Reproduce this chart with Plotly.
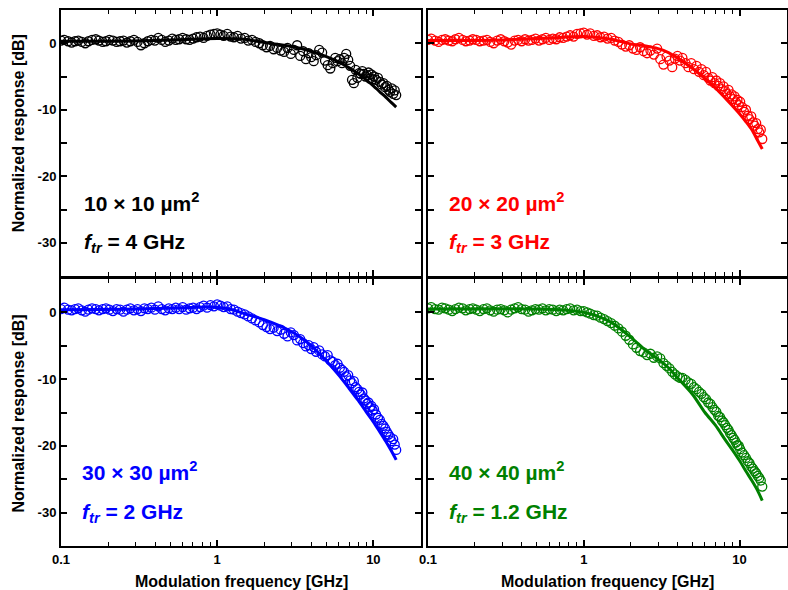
import plotly.graph_objects as go

# ---------------- data ----------------
freq_ghz = [
    0.100, 0.105, 0.111, 0.117, 0.123, 0.129, 0.136, 0.143, 0.150, 0.158,
    0.167, 0.175, 0.185, 0.194, 0.204, 0.215, 0.227, 0.239, 0.251, 0.264,
    0.278, 0.293, 0.309, 0.325, 0.342, 0.360, 0.379, 0.399, 0.420, 0.442,
    0.465, 0.490, 0.516, 0.543, 0.571, 0.601, 0.633, 0.666, 0.701, 0.738,
    0.777, 0.818, 0.861, 0.906, 0.954,
    1.00, 1.05, 1.10, 1.16, 1.22, 1.28, 1.35, 1.42, 1.50, 1.58,
    1.67, 1.76, 1.86, 1.96, 2.07, 2.18, 2.30, 2.42, 2.55, 2.68,
    2.82, 2.96, 3.10, 3.25, 3.40, 3.55, 3.70, 3.85, 4.00, 4.15,
    4.30, 4.50, 4.70, 4.90, 5.10, 5.30, 5.50, 5.70, 5.90, 6.10,
    6.30, 6.50, 6.70, 6.90, 7.10, 7.30, 7.50, 7.70, 7.90, 8.10,
    8.30, 8.50, 8.70, 8.90, 9.10, 9.30, 9.50, 9.70, 9.90, 10.1,
    10.4, 10.7, 11.0, 11.3, 11.6, 11.9, 12.2, 12.5, 12.8, 13.1,
    13.4, 13.7, 14.0,
]

meas_10um = [
    0.4, 0.5, 0.3, 0.1, 0.3, 0.4, 0.2, 0.0, 0.3, 0.5,
    0.6, 0.4, 0.2, 0.3, 0.5, 0.4, 0.2, 0.3, 0.4, 0.1,
    0.3, 0.5, 0.2, -0.3, 0.0, 0.3, 0.5, 0.4, 0.8, 0.5,
    0.2, 0.4, 0.7, 0.5, 0.6, 0.8, 0.6, 0.5, 0.7, 0.9,
    1.0, 0.8, 1.1, 1.3, 1.4,
    1.5, 1.3, 1.1, 1.4, 1.0, 0.9, 1.1, 0.7, 0.8, 0.4,
    0.5, 0.2, 0.0, -0.3, -0.6, -0.4, -0.9, -0.7, -1.1, -1.3,
    -0.7, -1.6, -1.0, -0.3, -1.9, -1.2, -2.4, -1.5, -2.1, -2.7,
    -1.8, -1.0, -1.4, -2.6, -3.3, -3.8, -3.0, -2.2, -2.7, -2.4,
    -3.0, -2.2, -1.6, -2.5, -3.4, -5.5, -6.0, -4.0, -5.2, -4.5,
    -4.6, -4.2, -4.6, -5.0, -4.8, -4.4, -5.3, -4.7, -5.4, -5.0,
    -5.5, -5.2, -5.8, -6.2, -6.0, -6.6, -6.4, -7.0, -7.3, -6.8,
    -7.6, -7.1, -7.8,
]

meas_20um = [
    0.5, 0.7, 0.4, 0.2, 0.5, 0.6, 0.4, 0.3, 0.6, 0.8,
    0.5, 0.3, 0.4, 0.6, 0.5, 0.3, 0.4, 0.5, 0.2, 0.0,
    0.4, 0.6, 0.3, 0.1, -0.2, 0.4, 0.5, 0.3, 0.6, 0.4,
    0.5, 0.7, 0.4, 0.6, 0.8, 0.5, 0.7, 0.6, 0.9, 0.8,
    1.0, 1.2, 1.0, 1.4, 1.5,
    1.6, 1.3, 1.5, 1.1, 1.2, 0.9, 1.0, 0.7, 0.8, 0.4,
    0.2, -0.2, -0.5, -0.3, -0.8, -1.0, -0.6, -1.2, -1.5, -1.1,
    -1.7, -0.8, -2.4, -3.2, -2.0, -2.6, -3.6, -2.3, -1.9, -2.6,
    -2.2, -3.0, -3.6, -3.0, -3.9, -3.4, -4.3, -3.9, -4.8, -4.3,
    -5.2, -5.6, -5.1, -6.0, -5.6, -6.4, -6.0, -6.9, -6.5, -7.2,
    -7.6, -7.0, -8.0, -7.7, -8.4, -8.0, -8.9, -8.5, -9.3, -8.8,
    -9.6, -10.3, -10.0, -10.9, -11.4, -11.0, -11.9, -12.4, -12.0, -12.9,
    -13.4, -13.0, -14.4,
]

meas_30um = [
    0.5, 0.7, 0.4, 0.3, 0.5, 0.6, 0.3, 0.1, 0.4, 0.6,
    0.5, 0.3, 0.5, 0.6, 0.4, 0.2, 0.5, 0.4, 0.1, 0.4,
    0.6, 0.3, 0.5, 0.2, 0.6, 0.5, 0.7, 0.4, 0.9, 0.5,
    0.3, 0.6, 0.5, 0.7, 0.5, 0.8, 0.4, 0.6, 0.7, 0.5,
    0.8, 1.0, 0.7, 1.1, 0.9,
    1.2, 1.0, 0.8, 0.9, 0.5, 0.4, 0.1, -0.1, -0.3, -0.6,
    -0.9, -1.2, -1.5, -1.9, -2.2, -2.5, -2.3, -2.8, -2.6, -3.2,
    -3.6, -3.0, -3.4, -4.2, -4.0, -4.6, -5.1, -4.9, -5.5, -5.2,
    -5.9, -5.7, -6.3, -6.6, -6.4, -7.2, -7.4, -7.9, -7.7, -8.3,
    -8.6, -8.9, -9.6, -9.4, -10.2, -10.6, -10.3, -11.2, -11.5, -11.9,
    -12.3, -12.0, -12.9, -13.2, -13.7, -13.5, -14.2, -14.0, -14.7, -14.5,
    -15.3, -15.8, -16.1, -16.7, -17.0, -17.4, -17.9, -18.3, -18.7, -19.3,
    -19.0, -19.8, -20.6,
]

meas_40um = [
    0.6, 0.8, 0.5, 0.4, 0.7, 0.6, 0.4, 0.2, 0.5, 0.7,
    0.6, 0.3, 0.5, 0.6, 0.4, 0.2, 0.5, 0.6, 0.3, 0.1,
    0.4, 0.5, 0.3, 0.0, 0.4, 0.6, 0.8, 0.5, 0.4, 0.1,
    0.3, 0.5, 0.4, 0.6, 0.3, 0.5, 0.4, 0.2, 0.4, 0.3,
    0.5, 0.6, 0.3, 0.4, 0.2,
    0.2, 0.0, -0.2, -0.4, -0.5, -0.8, -1.0, -1.3, -1.6, -2.0,
    -2.4, -2.9, -3.5, -4.1, -4.8, -5.3, -5.8, -6.0, -6.4, -6.2,
    -6.8, -6.6, -6.9, -7.6, -8.0, -8.4, -8.9, -9.3, -9.6, -9.8,
    -9.8, -10.1, -10.5, -10.7, -11.2, -11.5, -11.9, -12.2, -12.7, -13.0,
    -13.5, -13.7, -14.2, -14.6, -14.9, -15.5, -15.7, -16.2, -16.5, -16.9,
    -17.3, -17.6, -18.1, -18.4, -18.8, -19.1, -19.5, -19.9, -20.0, -20.5,
    -21.0, -21.4, -21.8, -22.3, -22.6, -23.1, -23.4, -23.8, -24.1, -24.5,
    -24.8, -25.2, -26.1,
]

fit_freq_10um = [0.1, 0.2, 0.4, 0.7, 1.0, 1.5, 2.0, 3.0, 4.0, 5.0, 6.0, 7.0, 8.0, 9.0, 10.0, 11.0, 12.0, 13.0, 14.0]
fit_10um = [0.3, 0.3, 0.4, 0.6, 0.7, 0.6, 0.1, -0.5, -1.2, -2.0, -2.8, -3.7, -4.6, -5.5, -6.4, -7.3, -8.1, -8.9, -9.6]

fit_freq_20um = [0.1, 0.3, 0.6, 1.0, 1.5, 2.0, 2.5, 3.0, 3.5, 4.0, 5.0, 6.0, 7.0, 8.0, 9.0, 10.0, 11.0, 12.0, 13.0, 14.0]
fit_20um = [0.4, 0.5, 0.8, 1.0, 0.6, -0.1, -0.4, -0.8, -1.4, -2.2, -3.8, -5.3, -6.7, -8.1, -9.4, -10.6, -11.8, -13.0, -14.5, -15.9]

fit_freq_30um = [0.1, 0.3, 0.6, 0.9, 1.2, 1.5, 2.0, 2.5, 3.0, 3.5, 4.0, 5.0, 6.0, 7.0, 8.0, 9.0, 10.0, 11.0, 12.0, 13.0, 14.0]
fit_30um = [0.4, 0.5, 0.7, 0.8, 0.5, -0.2, -1.1, -2.0, -2.9, -3.9, -5.0, -7.3, -9.4, -11.4, -13.2, -14.9, -16.4, -17.9, -19.3, -20.7, -22.1]

fit_freq_40um = [0.1, 0.5, 0.8, 1.0, 1.2, 1.5, 2.0, 2.5, 3.0, 3.5, 4.0, 5.0, 6.0, 7.0, 8.0, 9.0, 10.0, 11.0, 12.0, 13.0, 14.0]
fit_40um = [0.5, 0.5, 0.3, 0.0, -0.5, -1.5, -3.7, -5.7, -7.0, -8.3, -9.8, -12.3, -15.0, -16.9, -18.9, -20.6, -22.2, -23.8, -25.2, -26.6, -28.2]

panel_sizes = ["10 × 10 µm<sup>2</sup>", "20 × 20 µm<sup>2</sup>", "30 × 30 µm<sup>2</sup>", "40 × 40 µm<sup>2</sup>"]
panel_ftr = ["4 GHz", "3 GHz", "2 GHz", "1.2 GHz"]
panel_colors = ["#000000", "#ff0000", "#0000ff", "#008000"]

x_tick_vals = [0.1, 1, 10]
x_tick_text = ["0.1", "1", "10"]
x_minor_vals = [0.2, 0.3, 0.4, 0.5, 0.6, 0.7, 0.8, 0.9, 2, 3, 4, 5, 6, 7, 8, 9]
y_tick_vals = [0, -10, -20, -30]
y_tick_text = ["0", "-10", "-20", "-30"]
y_minor_vals = [5, -5, -15, -25, -35]

measurements = [meas_10um, meas_20um, meas_30um, meas_40um]
fits = [(fit_freq_10um, fit_10um), (fit_freq_20um, fit_20um),
        (fit_freq_30um, fit_30um), (fit_freq_40um, fit_40um)]

for m in measurements:
    assert len(m) == len(freq_ghz), len(m)
for fx, fy in fits:
    assert len(fx) == len(fy)

# ---------------- figure ----------------
FONT = "Liberation Sans, Arial, sans-serif"
fig = go.Figure()

for i in range(4):
    sfx = "" if i == 0 else str(i + 1)
    fig.add_trace(go.Scatter(
        x=freq_ghz, y=measurements[i], mode="markers",
        marker=dict(symbol="circle-open", size=9, color=panel_colors[i],
                    line=dict(width=1.3, color=panel_colors[i])),
        xaxis="x" + sfx, yaxis="y" + sfx, showlegend=False, hoverinfo="skip"))
    fx, fy = fits[i]
    fig.add_trace(go.Scatter(
        x=fx, y=fy, mode="lines",
        line=dict(color=panel_colors[i], width=3, shape="spline", smoothing=0.8),
        xaxis="x" + sfx, yaxis="y" + sfx, showlegend=False, hoverinfo="skip"))

W, H = 788, 590
ML, MR, MT, MB = 61, 1, 10, 44
PW, PH = W - ML - MR, H - MT - MB

xdom_left = [0, 360 / PW]
xdom_right = [367 / PW, 1]
ydom_top = [270 / PH, 1]
ydom_bot = [0, 267 / PH]

tickfont = dict(family=FONT, size=13, color="black", weight="bold")


def xaxis(dom, anchor, labels):
    return dict(type="log", range=[-1, 1.305], domain=dom, anchor=anchor,
                showline=True, linecolor="black", linewidth=2, mirror="ticks",
                ticks="inside", ticklen=6, tickwidth=1.5, tickcolor="black",
                tickvals=x_tick_vals, ticktext=x_tick_text, showticklabels=labels,
                minor=dict(tickvals=x_minor_vals, ticks="inside", ticklen=4,
                           tickwidth=1, tickcolor="black"),
                showgrid=False, zeroline=False, tickfont=tickfont, automargin=False)


def yaxis(dom, anchor, labels):
    return dict(range=[-35, 5], domain=dom, anchor=anchor,
                showline=True, linecolor="black", linewidth=2, mirror="ticks",
                ticks="inside", ticklen=6, tickwidth=1.5, tickcolor="black",
                tickvals=y_tick_vals, ticktext=y_tick_text, showticklabels=labels,
                minor=dict(tickvals=y_minor_vals, ticks="inside", ticklen=6,
                           tickwidth=1.5, tickcolor="black"),
                showgrid=False, zeroline=False, tickfont=tickfont, automargin=False)


fig.update_layout(
    width=W, height=H,
    margin=dict(l=ML, r=MR, t=MT, b=MB),
    paper_bgcolor="white", plot_bgcolor="white",
    font=dict(family=FONT, color="black"),
    xaxis=xaxis(xdom_left, "y", False),
    yaxis=yaxis(ydom_top, "x", True),
    xaxis2=xaxis(xdom_right, "y2", False),
    yaxis2=yaxis(ydom_top, "x2", False),
    xaxis3=xaxis(xdom_left, "y3", True),
    yaxis3=yaxis(ydom_bot, "x3", True),
    xaxis4=xaxis(xdom_right, "y4", True),
    yaxis4=yaxis(ydom_bot, "x4", False),
)

ann = []
x_text = [0.057, 0.052, 0.053, 0.052]
for i in range(4):
    sfx = "" if i == 0 else str(i + 1)
    ann.append(dict(text="<b>" + panel_sizes[i] + "</b>", x=x_text[i], y=0.280,
                    xref="x" + sfx + " domain", yref="y" + sfx + " domain",
                    xanchor="left", yanchor="middle", showarrow=False,
                    font=dict(family=FONT, size=21, color=panel_colors[i])))
    ann.append(dict(text="<b><i>f</i><sub><i>tr</i></sub> = " + panel_ftr[i] + "</b>",
                    x=x_text[i], y=0.125,
                    xref="x" + sfx + " domain", yref="y" + sfx + " domain",
                    xanchor="left", yanchor="middle", showarrow=False,
                    font=dict(family=FONT, size=21, color=panel_colors[i])))

title_font = dict(family=FONT, size=16, color="black", weight="bold")
for yc in [0.7705, 0.2476]:
    ann.append(dict(text="Normalized response [dB]", x=(18.3 - ML) / PW, y=yc,
                    xref="paper", yref="paper", xanchor="center", yanchor="middle",
                    textangle=-90, showarrow=False, font=title_font))
for xc in [(241 - ML) / PW, (607.5 - ML) / PW]:
    ann.append(dict(text="Modulation frequency [GHz]", x=xc, y=(546 - 581) / PH,
                    xref="paper", yref="paper", xanchor="center", yanchor="middle",
                    showarrow=False, font=title_font))

fig.update_layout(annotations=ann)
fig.write_html(
    "out.html",
    config={"displayModeBar": False},
    post_script="document.body.style.margin='0';document.body.style.padding='0';",
)
